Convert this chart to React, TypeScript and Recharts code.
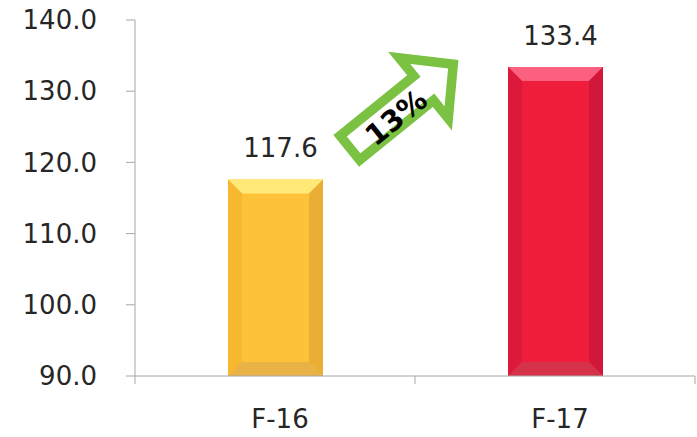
import { BarChart, Bar, XAxis, YAxis, LabelList, ReferenceDot } from 'recharts'

const categories = ['F-16', 'F-17']
const values = [117.6, 133.4]
const yTicks = [90, 100, 110, 120, 130, 140]
const growthLabel = '13%'

const data = categories.map((name, i) => ({ name, value: values[i] }))

const FONT = '"DejaVu Sans", sans-serif'
const TEXT = '#262626'
const AXIS = '#a6a6a6'

// bevel colours: main, top, left, right, bottom
const palettes = [
    { main: '#fdc23a', top: '#ffea78', left: '#f7b830', right: '#ebae34', bottom: '#e8b246' },
    { main: '#ef1c3c', top: '#fb6080', left: '#dd193b', right: '#d1173a', bottom: '#d6334a' },
]

const BevelBar = (props: any) => {
    const { x, y, width, height, index } = props
    const c = palettes[index % palettes.length]
    const b = 14
    const x2 = x + width
    const y2 = y + height
    return (
        <g>
            <rect x={x} y={y} width={width} height={height} fill={c.main} />
            <polygon points={`${x},${y} ${x2},${y} ${x2 - b},${y + b} ${x + b},${y + b}`} fill={c.top} />
            <polygon points={`${x},${y} ${x + b},${y + b} ${x + b},${y2 - b} ${x},${y2}`} fill={c.left} />
            <polygon points={`${x2},${y} ${x2},${y2} ${x2 - b},${y2 - b} ${x2 - b},${y + b}`} fill={c.right} />
            <polygon points={`${x},${y2} ${x + b},${y2 - b} ${x2 - b},${y2 - b} ${x2},${y2}`} fill={c.bottom} />
        </g>
    )
}

const CategoryTick = (props: any) => {
    const { x, y, payload, index, visibleTicksCount, width } = props
    const half = payload.offset || width / visibleTicksCount / 2
    return (
        <g>
            <line x1={x - half} y1={y} x2={x - half} y2={y + 8} stroke={AXIS} />
            {index === visibleTicksCount - 1 && (
                <line x1={x + half} y1={y} x2={x + half} y2={y + 8} stroke={AXIS} />
            )}
            <text x={x + 5} y={y + 52} textAnchor="middle" fill={TEXT} fontSize={26} fontFamily={FONT}>
                {payload.value}
            </text>
        </g>
    )
}

const GrowthArrow = (props: any) => {
    const { cx, cy } = props
    return (
        <g transform={`translate(${cx + 71},${cy}) rotate(-39)`}>
            <path
                d="M5,-15.6 L100,-15.6 L100,-39 L138,0 L100,39 L100,15.6 L5,15.6 Z"
                fill="#fff"
                stroke="#7bc142"
                strokeWidth={9.5}
                strokeLinejoin="miter"
            />
            <text x={60} y={15.5} textAnchor="middle" fontSize={29} fontWeight="bold" fontFamily={FONT} fill="#000">
                {growthLabel}
            </text>
        </g>
    )
}

const App = () => {
    return (
        <div style={{ position: 'absolute', left: 0, top: 0 }}>
            <BarChart width={697} height={437} data={data} margin={{ top: 20, right: 2, left: 0, bottom: 0 }}>
                <XAxis
                    dataKey="name"
                    height={61}
                    stroke={AXIS}
                    tickLine={false}
                    tickSize={0}
                    tickMargin={0}
                    tick={<CategoryTick />}
                    interval={0}
                />
                <YAxis
                    width={135}
                    domain={[90, 140]}
                    ticks={yTicks}
                    allowDataOverflow
                    stroke={AXIS}
                    tickSize={9}
                    tickMargin={29}
                    tickFormatter={(v: number) => v.toFixed(1)}
                    tick={{ fill: TEXT, fontSize: 26, fontFamily: FONT }}
                />
                <Bar dataKey="value" barSize={95} shape={<BevelBar />} isAnimationActive={false}>
                    <LabelList
                        dataKey="value"
                        content={(p: any) => (
                            <text
                                x={p.x + p.width / 2 + 5}
                                y={p.y - 22}
                                textAnchor="middle"
                                fill={TEXT}
                                fontSize={26}
                                fontFamily={FONT}
                            >
                                {Number(p.value).toFixed(1)}
                            </text>
                        )}
                    />
                </Bar>
                <ReferenceDot x="F-16" y={121.6} r={0} shape={<GrowthArrow />} />
            </BarChart>
        </div>
    )
}

export default App
